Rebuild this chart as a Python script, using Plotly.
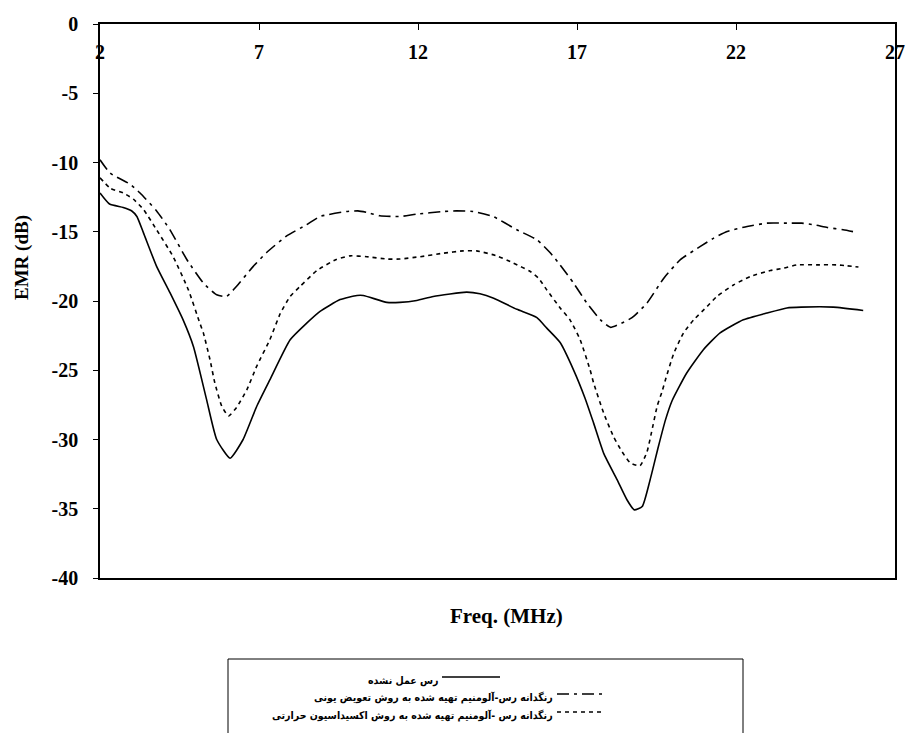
import plotly.graph_objects as go

# Series 1: untreated clay (solid)
freq_untreated = [2.0, 2.3, 2.73, 3.0, 3.16, 3.37, 3.78, 4.2, 4.62, 4.94, 5.35, 5.67, 6.09, 6.5, 6.93,
                  7.34, 7.98, 8.5, 8.92, 9.55, 10.08, 10.28, 11.02, 11.43, 11.96, 12.48, 13.53, 13.95,
                  14.38, 15.11, 15.74, 16.05, 16.47, 16.89, 17.25, 17.52, 17.84, 18.26, 18.57, 18.8,
                  19.05, 19.3, 19.56, 19.78, 19.99, 20.45, 20.98, 21.5, 22.23, 22.97, 23.6, 24.05,
                  25.06, 26.0]
emr_untreated = [-12.2, -13.0, -13.25, -13.5, -13.9, -15.1, -17.5, -19.4, -21.4, -23.3, -27.1, -30.0,
                 -31.35, -30.0, -27.6, -25.7, -22.8, -21.6, -20.75, -19.9, -19.6, -19.6, -20.1, -20.1,
                 -19.96, -19.67, -19.36, -19.48, -19.8, -20.6, -21.2, -21.96, -23.0, -24.97, -27.0,
                 -28.8, -31.0, -32.9, -34.35, -35.08, -34.84, -32.9, -30.5, -28.6, -27.2, -25.2, -23.5,
                 -22.3, -21.36, -20.87, -20.5, -20.44, -20.44, -20.68]

# Series 2: clay-aluminium pigment, ion exchange (dash-dot)
freq_ion = [2.0, 2.32, 2.94, 3.26, 3.78, 4.2, 4.73, 5.25, 5.67, 5.98, 6.29, 6.82, 7.24, 7.87, 8.49,
            8.92, 9.75, 10.11, 10.39, 10.8, 11.43, 11.96, 12.79, 13.2, 13.73, 14.36, 15.11, 15.74,
            16.15, 16.47, 16.89, 17.31, 17.74, 18.05, 18.31, 18.73, 19.2, 19.73, 20.26, 20.88, 21.3,
            21.72, 22.35, 22.98, 23.61, 24.06, 24.46, 24.87, 25.37, 25.82]
emr_ion = [-9.8, -10.77, -11.56, -12.2, -13.5, -14.86, -17.0, -18.7, -19.55, -19.67, -18.95, -17.5,
           -16.5, -15.3, -14.5, -13.9, -13.54, -13.49, -13.6, -13.85, -13.9, -13.73, -13.54, -13.49,
           -13.54, -13.9, -14.86, -15.58, -16.5, -17.4, -18.7, -20.15, -21.36, -21.9, -21.7, -21.2,
           -20.15, -18.35, -17.0, -16.06, -15.46, -14.98, -14.62, -14.38, -14.38, -14.38, -14.5,
           -14.69, -14.86, -15.05]

# Series 3: clay-aluminium pigment, thermal oxidation (dotted)
freq_oxid = [2.0, 2.32, 2.73, 3.05, 3.37, 3.78, 4.3, 4.78, 5.14, 5.25, 5.46, 5.61, 5.83, 6.04, 6.29,
             6.62, 6.93, 7.34, 7.67, 7.98, 8.29, 8.82, 9.43, 9.87, 10.39, 11.02, 11.43, 12.07, 12.79,
             13.42, 13.84, 14.48, 15.0, 15.53, 15.79, 16.05, 16.47, 16.78, 17.1, 17.41, 17.52, 17.84,
             18.15, 18.42, 18.68, 18.98, 19.2, 19.36, 19.52, 19.68, 19.78, 20.04, 20.35, 20.67,
             21.09, 21.4, 21.93, 22.45, 23.08, 23.5, 23.92, 24.55, 25.17, 25.49, 25.85]
emr_oxid = [-11.1, -11.85, -12.2, -12.65, -13.4, -14.86, -16.8, -19.2, -21.6, -22.3, -24.25, -25.9,
            -27.6, -28.3, -27.7, -26.4, -24.7, -22.8, -20.9, -19.67, -18.95, -17.8, -17.0, -16.74,
            -16.8, -16.97, -16.97, -16.8, -16.55, -16.38, -16.38, -16.74, -17.26, -17.87, -18.35,
            -19.2, -20.5, -21.36, -22.8, -24.96, -25.9, -28.1, -29.8, -30.9, -31.7, -31.9, -30.9,
            -29.3, -27.6, -26.5, -25.7, -23.8, -22.3, -21.36, -20.4, -19.67, -18.83, -18.23, -17.8,
            -17.63, -17.39, -17.39, -17.39, -17.46, -17.55]

names = ["رس عمل نشده",
         "رنگدانه رس-آلومنیم تهیه شده به روش تعویض یونی",
         "رنگدانه رس -آلومنیم تهیه شده به روش اکسیداسیون حرارتی"]

x_ticks = [2, 7, 12, 17, 22, 27]
y_ticks = [0, -5, -10, -15, -20, -25, -30, -35, -40]

DASHDOT = "12px,5px,3px,5px"
DOTTED = "4px,4px"

fig = go.Figure()
common = dict(mode="lines", showlegend=False, line_shape="spline")
fig.add_trace(go.Scatter(x=freq_untreated, y=emr_untreated, name=names[0],
                         line=dict(color="black", width=1.6, smoothing=0.5), **common))
fig.add_trace(go.Scatter(x=freq_ion, y=emr_ion, name=names[1],
                         line=dict(color="black", width=1.6, dash=DASHDOT, smoothing=0.5), **common))
fig.add_trace(go.Scatter(x=freq_oxid, y=emr_oxid, name=names[2],
                         line=dict(color="black", width=1.6, dash=DOTTED, smoothing=0.5), **common))

W, H = 906, 733
L, R, T, B = 100, 895, 24, 578          # plot frame in screen pixels
pw, ph = R - L, B - T

def px_x(px):
    return (px - L) / pw

def px_y(py):
    return (B - py) / ph

tickfont = dict(family="Liberation Serif", size=20, color="black")

fig.update_layout(
    width=W, height=H,
    margin=dict(l=L, r=W - R, t=T, b=H - B, pad=0),
    paper_bgcolor="white", plot_bgcolor="white",
    showlegend=False,
    xaxis=dict(range=[2, 27], tickvals=x_ticks, showticklabels=False, automargin=False,
               side="top", ticks="inside", ticklen=6, tickcolor="black",
               showline=True, linecolor="black", linewidth=1.5, mirror=True,
               showgrid=False, zeroline=False),
    yaxis=dict(range=[-40, 0], tickvals=y_ticks, ticktext=[f"<b>{v}</b>" for v in y_ticks],
               ticks="outside", ticklen=5, tickcolor="black", automargin=False,
               ticklabelstandoff=11,
               showline=True, linecolor="black", linewidth=1.5, mirror=True,
               showgrid=False, zeroline=False, tickfont=tickfont),
)

# X tick labels, placed below the top axis line (inside the plot)
for v in x_ticks:
    fig.add_annotation(x=v, y=px_y(52), xref="x", yref="paper", text=f"<b>{v}</b>",
                       showarrow=False, xanchor="center", yanchor="middle", font=tickfont)

# Axis titles
fig.add_annotation(x=px_x(506), y=px_y(616), xref="paper", yref="paper",
                   xanchor="center", yanchor="middle",
                   text="<b>Freq. (MHz)</b>", showarrow=False,
                   font=dict(family="Liberation Serif", size=21, color="black"))
fig.add_annotation(x=px_x(22), y=px_y(258), xref="paper", yref="paper",
                   xanchor="center", yanchor="middle",
                   text="<b>EMR (dB)</b>", showarrow=False, textangle=-90,
                   font=dict(family="Liberation Serif", size=19, color="black"))

# Legend box
fig.add_shape(type="rect", xref="paper", yref="paper",
              x0=px_x(228), x1=px_x(743), y0=px_y(745), y1=px_y(659),
              line=dict(color="black", width=1), fillcolor="white", layer="below")

legend_rows = [
    (names[0], 440, 500, 680, None),
    (names[1], 555, 602, 697, DASHDOT),
    (names[2], 555, 602, 715, DOTTED),
]
for text, x_text_end, x_line_end, yrow, dash in legend_rows:
    fig.add_annotation(x=px_x(x_text_end), y=px_y(yrow), xref="paper", yref="paper",
                       xanchor="right", yanchor="middle", text=f"<b>{text}</b>", showarrow=False,
                       font=dict(family="DejaVu Sans Condensed, DejaVu Sans", size=10.5, color="black"))
    fig.add_shape(type="line", xref="paper", yref="paper",
                  x0=px_x(x_text_end + 2), x1=px_x(x_line_end), y0=px_y(yrow - 3), y1=px_y(yrow - 3),
                  line=dict(color="black", width=1.6, dash=dash if dash else "solid"))

fig.write_html("out.html", config={"displayModeBar": False},
               post_script="document.body.style.margin='0';document.body.style.overflow='hidden';")
